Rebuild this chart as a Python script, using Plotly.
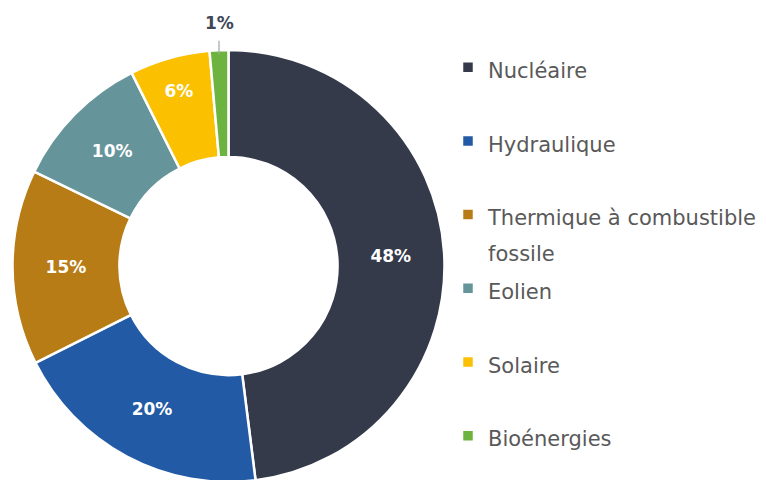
import math
import plotly.graph_objects as go

# données (parts de production)
labels = ["Nucléaire", "Hydraulique", "Thermique à combustible fossile",
          "Eolien", "Solaire", "Bioénergies"]
legend_lines = [["Nucléaire"], ["Hydraulique"], ["Thermique à combustible", "fossile"],
                ["Eolien"], ["Solaire"], ["Bioénergies"]]
values = [48.0, 19.6, 14.6, 10.4, 6.0, 1.4]
colors = ["#343a4a", "#235aa6", "#b87c16", "#65959b", "#fbc100", "#6db33f"]

# page body has an 8px margin -> work in screen px and shift
OFF = 8
W, H = 766 + OFF, 480 + OFF


def px_x(sx):
    return (sx - OFF) / W


def px_y(sy):
    return 1 - (sy - OFF) / H


cx_s, cy_s, r_s = 228.5, 266, 216
dom_x = [px_x(cx_s - r_s), px_x(cx_s + r_s)]
dom_y = [px_y(cy_s + r_s), px_y(cy_s - r_s)]

# legend: big line height (font 27.2) so entries are ~74px apart,
# visible text drawn smaller inside a span
LEG_FS = 27.2
names = []
for lines in legend_lines:
    lines = lines + ["&nbsp;"] * (2 - len(lines))
    names.append("<br>".join('<span style="font-size:21px">%s</span>' % l for l in lines))

texts = ["%{percent:.0%}"] * (len(values) - 1) + [""]

fig = go.Figure(go.Pie(
    labels=names,
    values=values,
    hole=0.505,
    sort=False,
    direction="clockwise",
    rotation=0,
    marker=dict(colors=colors, line=dict(color="white", width=2.5)),
    texttemplate=texts,
    textposition="inside",
    insidetextorientation="horizontal",
    textfont=dict(family="DejaVu Sans", size=17, color="white", weight="bold"),
    domain=dict(x=dom_x, y=dom_y),
    hovertext=labels,
    hoverinfo="text+percent",
))

# label of the small last slice, outside with a leader line
tot = sum(values)
mid = (tot - values[-1] / 2) / tot * 2 * math.pi
ax_s = cx_s + r_s * math.sin(mid)
ay_s = cy_s - (r_s - 4) * math.cos(mid)
pct = round(values[-1] / tot * 100)
fig.add_annotation(
    x=px_x(ax_s), y=px_y(ay_s), xref="paper", yref="paper",
    text="<b>%d%%</b>" % pct,
    showarrow=True, arrowhead=0, arrowwidth=1.2, arrowcolor="#a6a6a6",
    ax=0, ay=-31, startstandoff=6,
    font=dict(family="DejaVu Sans", size=17, color="#404656"),
)

fig.update_layout(
    width=W, height=H,
    margin=dict(l=0, r=0, t=0, b=0),
    paper_bgcolor="white",
    showlegend=True,
    legend=dict(
        x=px_x(448), xanchor="left",
        y=px_y(43.4), yanchor="top",
        valign="top",
        font=dict(family="DejaVu Sans", size=LEG_FS, color="#595959"),
        bgcolor="rgba(0,0,0,0)",
    ),
)

fig.write_html("out.html")
